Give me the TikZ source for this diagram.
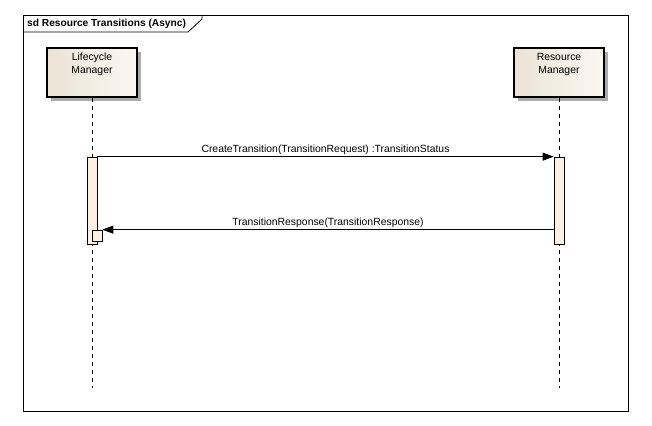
\documentclass[tikz,border=0pt]{standalone}
\usepackage{fontspec}
\setmainfont{Liberation Sans}
\usetikzlibrary{arrows.meta,shadows}
\definecolor{boxleft}{HTML}{ECE3D5}
\definecolor{boxright}{HTML}{FBF7F1}
\definecolor{actfill}{HTML}{FBF0E1}
\tikzset{
  lifebox/.style={draw,line width=1.2pt,minimum width=90pt,minimum height=49pt,
    left color=boxleft,right color=boxright,
    drop shadow={shadow xshift=4pt,shadow yshift=-4pt,fill=gray!65,opacity=1}},
  actbar/.style={draw,line width=0.7pt,fill=actfill,minimum width=10pt,inner sep=0pt},
  lifeline/.style={line width=0.7pt,dash pattern=on 4pt off 4pt},
  msg/.style={line width=0.8pt,-{Triangle[length=11pt,width=8pt]}},
  txt/.style={font=\fontsize{10.4}{13}\selectfont}
}
\begin{document}
\begin{tikzpicture}[x=1pt,y=-1pt]
\useasboundingbox (0,0) rectangle (652,425);
% frame
\draw[line width=0.8pt] (23,15) rectangle (628,411);
\draw[line width=0.8pt] (23,32) -- (188,32) -- (202,19) -- (202,15);
\node[txt,font=\fontsize{10.2}{13}\selectfont\bfseries,anchor=west,inner sep=0pt] (title) at (27,23.5) {sd Resource Transitions (Async)};
% lifelines
\node[lifebox,label={[txt,anchor=north,align=center,yshift=-2.5pt]north:Lifecycle\\Manager}] (lcm) at (92,72.5) {};
\node[lifebox,label={[txt,anchor=north,align=center,yshift=-2.5pt]north:Resource\\Manager}] (rm) at (559,72.5) {};
\coordinate (lcmEnd) at (92,388);
\coordinate (rmEnd) at (559,388);
\draw[lifeline] (lcm.south) -- (lcmEnd);
\draw[lifeline] (rm.south) -- (rmEnd);
% activations
\node[actbar,minimum height=87pt] (actL) at (92,200.5) {};
\node[actbar,minimum height=87pt] (actR) at (559,200.5) {};
\node[actbar,minimum height=11pt] (nest) at (97,235.5) {};
% messages
\draw[msg] (actL.north east) -- (actR.north west) node[txt,midway,above,inner sep=1.5pt] {CreateTransition(TransitionRequest) :TransitionStatus};
\draw[msg] (nest.north east -| actR.west) -- (nest.north east) node[txt,midway,above,inner sep=1.5pt] {TransitionResponse(TransitionResponse)};
\end{tikzpicture}
\end{document}
